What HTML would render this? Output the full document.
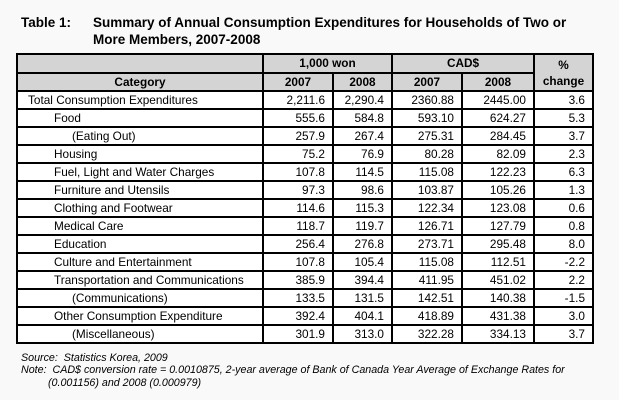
<!DOCTYPE html>
<html><head><meta charset="utf-8">
<style>
html,body{margin:0;padding:0;}
body{width:619px;height:400px;background:#f9f9f9;position:relative;overflow:hidden;font-family:"Liberation Sans",Arial,sans-serif;color:#000;}
.t{position:absolute;font-weight:bold;font-size:13.5px;}
table{position:absolute;left:16px;top:53px;border-collapse:collapse;table-layout:fixed;font-size:11.8px;}
td,th{border:2px solid #000;padding:0 7px 0 0;height:16px;line-height:16px;background:#fff;white-space:nowrap;overflow:hidden;}
th{background:#d4d4d4;font-weight:bold;text-align:center;padding:0;}
tr.h1 th{height:17px;line-height:17px;}
tr.h2 th{height:16px;}
td.n{text-align:right;}
td.c{text-align:left;padding:0;}
.note{position:absolute;left:21px;font-style:italic;font-size:10.7px;}
</style></head><body>
<div class="t" style="left:21px;top:15px;">Table 1:</div>
<div class="t" style="left:93px;top:15px;line-height:16.5px;">Summary of Annual Consumption Expenditures for Households of Two or<br>More Members, 2007-2008</div>
<table>
<colgroup><col style="width:246px"><col style="width:70px"><col style="width:59px"><col style="width:70px"><col style="width:72px"><col style="width:59px"></colgroup>
<tr class="h1"><th></th><th colspan="2">1,000 won</th><th colspan="2">CAD$</th><th rowspan="2" style="line-height:16px">%<br>change</th></tr>
<tr class="h2"><th>Category</th><th>2007</th><th>2008</th><th>2007</th><th>2008</th></tr>
<tbody id="body"></tbody>
</table>
<div class="note" style="top:352px;">Source:&nbsp; Statistics Korea, 2009</div>
<div class="note" style="top:364px;line-height:12.5px;">Note:&nbsp; CAD$ conversion rate = 0.0010875, 2-year average of Bank of Canada Year Average of Exchange Rates for<br><span style="padding-left:27px">(0.001156) and 2008 (0.000979)</span></div>
<script>
const categories=["Total Consumption Expenditures","Food","(Eating Out)","Housing","Fuel, Light and Water Charges","Furniture and Utensils","Clothing and Footwear","Medical Care","Education","Culture and Entertainment","Transportation and Communications","(Communications)","Other Consumption Expenditure","(Miscellaneous)"];
const indents=[10,36,54,36,36,36,36,36,36,36,36,54,36,54];
const won2007=["2,211.6","555.6","257.9","75.2","107.8","97.3","114.6","118.7","256.4","107.8","385.9","133.5","392.4","301.9"];
const won2008=["2,290.4","584.8","267.4","76.9","114.5","98.6","115.3","119.7","276.8","105.4","394.4","131.5","404.1","313.0"];
const cad2007=["2360.88","593.10","275.31","80.28","115.08","103.87","122.34","126.71","273.71","115.08","411.95","142.51","418.89","322.28"];
const cad2008=["2445.00","624.27","284.45","82.09","122.23","105.26","123.08","127.79","295.48","112.51","451.02","140.38","431.38","334.13"];
const pct=["3.6","5.3","3.7","2.3","6.3","1.3","0.6","0.8","8.0","-2.2","2.2","-1.5","3.0","3.7"];
const body=document.getElementById('body');
categories.forEach((c,i)=>{
  const tr=document.createElement('tr');
  
  
  const td=document.createElement('td');
  td.className='c';
  td.style.paddingLeft=indents[i]+'px';
  td.textContent=c;
  
  
  tr.appendChild(td);
  [won2007[i],won2008[i],cad2007[i],cad2008[i],pct[i]].forEach(v=>{
    const d=document.createElement('td');
    d.className='n';
    d.textContent=v;
    
    
    tr.appendChild(d);
  });
  body.appendChild(tr);
});
</script>
</body></html>
